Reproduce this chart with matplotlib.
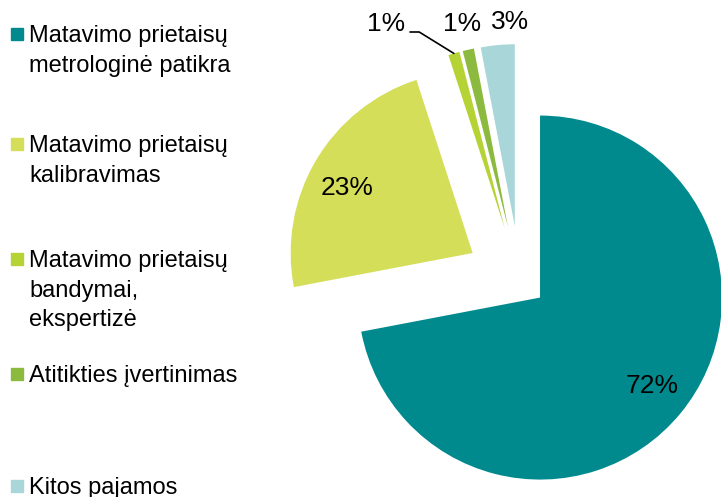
import numpy as np
import matplotlib.pyplot as plt
from matplotlib.patches import Rectangle

plt.rcParams['font.family'] = ['Liberation Sans', 'DejaVu Sans']

labels = ["Matavimo prietaisų\nmetrologinė patikra",
          "Matavimo prietaisų\nkalibravimas",
          "Matavimo prietaisų\nbandymai,\nekspertizė",
          "Atitikties įvertinimas",
          "Kitos pajamos"]
shares = [72, 23, 1, 1, 3]
colors = ["#008A8E", "#D4DE59", "#B5D334", "#8CBA3F", "#A9D6D8"]

W, H = 721, 497
# explode is in data units here (axes drawn in pixel units)
explode = [26, 55, 55, 55, 55]

fig = plt.figure(figsize=(W / 100, H / 100), dpi=100)
ax = fig.add_axes([0, 0, 1, 1])

wedges, _ = ax.pie(shares, colors=colors, explode=explode, startangle=90,
                   counterclock=False, radius=182, center=(520, H - 281),
                   wedgeprops=dict(linewidth=0))
ax.set_xlim(0, W)
ax.set_ylim(0, H)
ax.set_aspect('equal')
ax.axis('off')

# percentage labels (pixel positions, y from top)
pct_pos = [(652, 386), (347, 188), (386, 24), (462, 24), (510, 22)]
for v, (x, y) in zip(shares, pct_pos):
    ax.text(x, H - y, f"{v}%", fontsize=19, ha='center', va='center')

# leader line for the first 1% slice
w = wedges[2]
th = np.deg2rad((w.theta1 + w.theta2) / 2)
tip = (w.center[0] + w.r * np.cos(th), w.center[1] + w.r * np.sin(th))
ax.annotate("", xy=tip, xytext=(410, H - 32),
            arrowprops=dict(arrowstyle='-', color='black', lw=1.2,
                            shrinkA=0, shrinkB=0,
                            connectionstyle='angle,angleA=0,angleB=-31.7,rad=0'))

# legend drawn by hand, entries evenly spaced like the original
tops = [25, 135, 250, 365, 477]
for lab, c, t in zip(labels, colors, tops):
    fig.text(29 / W, 1 - t / H, lab, fontsize=17, va='top', ha='left',
             linespacing=1.45)
    fig.patches.append(Rectangle((11 / W, 1 - (t + 15) / H), 12 / W, 12 / H,
                                 transform=fig.transFigure, color=c))

fig.savefig("out.png", dpi=100)
